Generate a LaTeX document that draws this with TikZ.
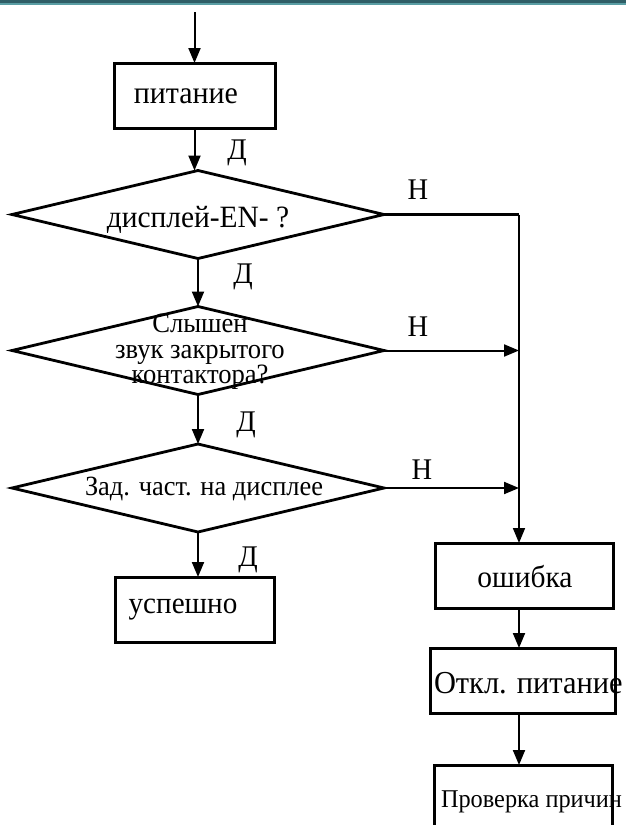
\documentclass[tikz,border=0pt]{standalone}
\usepackage{fontspec}
\setmainfont{Liberation Serif}[FakeStretch=0.95]
\usetikzlibrary{arrows.meta,shapes.geometric}
\definecolor{bardark}{HTML}{2F5E66}
\definecolor{barlight}{HTML}{5A9EA4}
\newcommand{\fs}[1]{\fontsize{#1}{#1}\selectfont}
\tikzset{
  boxs/.style={draw, rectangle, line width=3pt, inner sep=0pt, outer sep=0pt},
  dec/.style={draw, diamond, line width=2.8pt, minimum width=372pt, minimum height=88pt, inner sep=0pt, outer sep=0pt},
  conn/.style={line width=2pt, -{Triangle[length=15pt,width=12pt]}},
  txt/.style={inner sep=0pt, outer sep=0pt, align=center},
  lbl/.style={inner sep=0pt, font=\fs{30}},
}
\begin{document}
\begin{tikzpicture}[x=1pt,y=-1pt]
\useasboundingbox (0,0) rectangle (626,825);
\clip (0,0) rectangle (626,825);
\fill[white] (0,0) rectangle (626,825);
\fill[bardark] (0,0) rectangle (626,3.4);
\fill[barlight] (0,3.4) rectangle (626,4.8);

% nodes
\coordinate (start) at (194.5,12);
\node[boxs, minimum width=161pt, minimum height=65pt] (b1) at (194.5,95.5) {};
\node[txt, font=\fs{31.5}] (t1) at (186,96) {питание};

\node[dec] (d1) at (198,214.5) {};
\node[txt, font=\fs{31}] (t2) at (198,220) {дисплей-EN- ?};

\node[dec] (d2) at (198,350.5) {};
\node[txt, font=\fontsize{28}{25.5}\selectfont] (t3) at (200,352) {Слышен\\звук закрытого\\контактора?};

\node[dec] (d3) at (198,488) {};
\node[txt, font=\fs{27.8}] (t4) at (204,489) {Зад. част. на дисплее};

\node[boxs, minimum width=159pt, minimum height=65pt] (ok) at (194.5,609.5) {};
\node[txt, font=\fs{30.7}] (t5) at (183,610) {успешно};

\node[boxs, minimum width=178pt, minimum height=65pt] (err) at (524,575.5) {};
\node[txt, font=\fs{31}] (t6) at (525,577) {ошибка};

\node[boxs, minimum width=185pt, minimum height=65pt] (off) at (522.5,680.5) {};
\node[txt, font=\fs{32}, anchor=west] (t7) at (434,683) {Откл. питание};

\node[boxs, minimum width=178pt, minimum height=80pt] (chk) at (523,805) {};
\node[txt, font=\fs{25.6}, anchor=west] (t8) at (441,802) {Проверка причин};

\coordinate (jn) at (519,214.5);

% connectors
\draw[conn] (start) -- (b1.north);
\draw[conn] (b1.south) -- (b1.south |- d1.north);
\draw[conn] (d1.south) -- (d2.north);
\draw[conn] (d2.south) -- (d3.north);
\draw[conn] (d3.south) -- (d3.south |- ok.north);
\draw[line width=2.6pt] (d1.east) -- (jn);
\draw[line width=1.7pt, -{Triangle[length=15pt,width=12pt]}] (jn) -- (jn |- err.north);
\draw[conn] (d2.east) -- (d2.east -| jn);
\draw[conn] (d3.east) -- (d3.east -| jn);
\draw[conn] (err.south -| jn) -- (off.north -| jn);
\draw[conn] (off.south -| jn) -- (chk.north -| jn);

% labels
\node[lbl] at (237,153) {Д};
\node[lbl] at (243,277) {Д};
\node[lbl] at (246,425) {Д};
\node[lbl] at (248,560) {Д};
\node[lbl] at (418,190) {Н};
\node[lbl] at (418,327) {Н};
\node[lbl] at (422,470) {Н};
\end{tikzpicture}
\end{document}
